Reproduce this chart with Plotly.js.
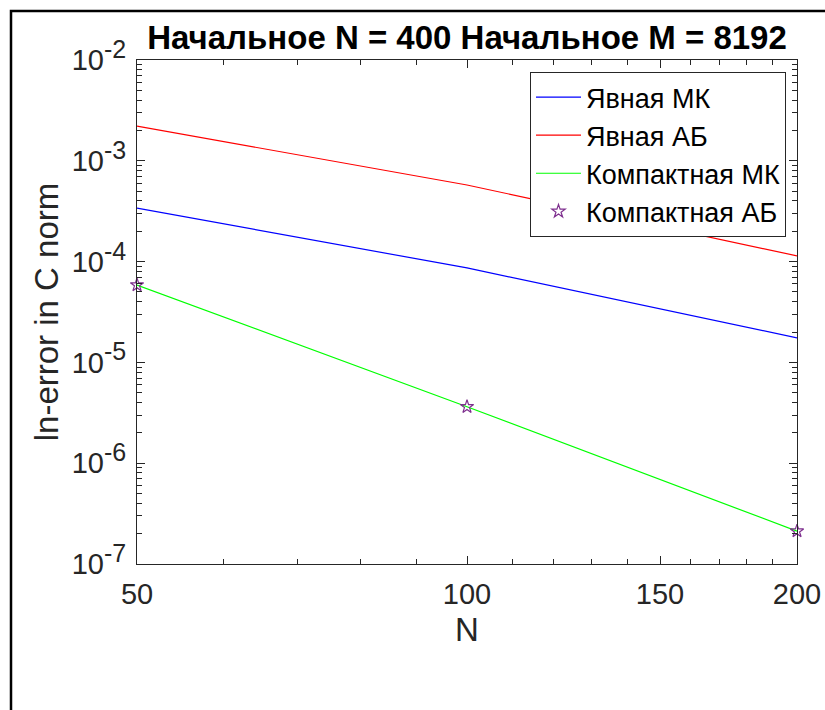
<!DOCTYPE html>
<html>
<head>
<meta charset="utf-8">
<script src="https://cdn.plot.ly/plotly-3.0.1.min.js"></script>
<style>
  html, body { margin: 0; padding: 0; background: #fff; }
  #chart { width: 825px; height: 710px; }
</style>
</head>
<body>
<div id="chart"></div>
<script>
// ---- data ----
const N = [50, 100, 200];
const explicitMK = [3.4e-4, 8.65e-5, 1.75e-5];
const explicitAB = [2.21e-3, 5.75e-4, 1.14e-4];
const compactMK = [5.86e-5, 3.63e-6, 2.12e-7];
const compactAB = [5.86e-5, 3.63e-6, 2.12e-7];

const seriesNames = ['Явная МК', 'Явная АБ', 'Компактная МК', 'Компактная АБ'];
const xTickVals = [50, 100, 150, 200];
const xTickText = ['50', '100', '150', '200'];
const yTickVals = [1e-7, 1e-6, 1e-5, 1e-4, 1e-3, 1e-2];
const yExponents = ['-7', '-6', '-5', '-4', '-3', '-2'];
const xMinorVals = [60, 70, 80, 90, 110, 120, 130, 140, 160, 170, 180, 190];
const yMinorVals = [];
for (let e = -7; e < -2; e++) {
  for (let m = 2; m <= 9; m++) yMinorVals.push(m * Math.pow(10, e));
}
const yTickText = yExponents.map(s => '10<sup><span style="font-size:25px">' + s + '</span></sup>');

const titleText = '<b>Начальное N = 400 Начальное M = 8192</b>';
const xTitle = 'N';
const yTitle = 'ln-error in C norm';

// ---- layout geometry (pixels) ----
const W = 825, H = 710;
const L = 137, R = 797, T = 60, B = 564;
const px2x = p => (p - L) / (R - L);
const py2y = p => (B - p) / (B - T);
const eps = 1e-6;

const axisColor = '#262626';
const fontFam = '"Liberation Sans", Arial, Helvetica, sans-serif';

const traces = [
  { x: N, y: explicitMK, name: seriesNames[0], type: 'scatter', mode: 'lines',
    line: { color: '#0000FF', width: 1.2 } },
  { x: N, y: explicitAB, name: seriesNames[1], type: 'scatter', mode: 'lines',
    line: { color: '#FF0000', width: 1.2 } },
  { x: N, y: compactMK, name: seriesNames[2], type: 'scatter', mode: 'lines',
    line: { color: '#00FF00', width: 1.2 } },
  { x: N, y: compactAB, name: seriesNames[3], type: 'scatter', mode: 'markers', cliponaxis: false,
    marker: { symbol: 'star-open', color: '#7E2F8E', size: 10, line: { width: 1.2, color: '#7E2F8E' } } }
];

const layout = {
  width: W, height: H,
  margin: { l: L, r: W - R, t: T, b: H - B },
  paper_bgcolor: '#ffffff',
  plot_bgcolor: '#ffffff',
  font: { family: fontFam, color: axisColor, size: 29 },
  title: { text: titleText, font: { family: fontFam, size: 33, color: '#000000' },
           x: 0.5, xref: 'paper', xanchor: 'center', y: 1 - 37 / H, yanchor: 'middle' },
  showlegend: true,
  legend: {
    x: px2x(786), xanchor: 'right', y: py2y(72), yanchor: 'top',
    bgcolor: '#ffffff', bordercolor: axisColor, borderwidth: 1,
    font: { family: fontFam, size: 27, color: '#000000' },
    itemwidth: 45
  },
  xaxis: {
    type: 'log', range: [Math.log10(50) - eps, Math.log10(200) + eps],
    tickmode: 'array', tickvals: xTickVals, ticktext: xTickText,
    ticks: 'inside', ticklen: 8, tickwidth: 1, tickcolor: axisColor,
    minor: { tickmode: 'array', tickvals: xMinorVals, ticks: 'inside', ticklen: 5, tickwidth: 1, tickcolor: axisColor, showgrid: false },
    showline: true, linecolor: axisColor, linewidth: 1, mirror: 'ticks',
    showgrid: false, zeroline: false,
    ticklabelstandoff: 4,
    tickfont: { size: 29, color: axisColor },
    title: { text: xTitle, font: { size: 33, color: axisColor }, standoff: 9 }
  },
  yaxis: {
    type: 'log', range: [-7 - eps, -2 + eps],
    tickmode: 'array', tickvals: yTickVals, ticktext: yTickText,
    ticks: 'inside', ticklen: 8, tickwidth: 1, tickcolor: axisColor,
    minor: { tickmode: 'array', tickvals: yMinorVals, ticks: 'inside', ticklen: 5, tickwidth: 1, tickcolor: axisColor, showgrid: false },
    showline: true, linecolor: axisColor, linewidth: 1, mirror: 'ticks',
    showgrid: false, zeroline: false,
    ticklabelstandoff: 4,
    tickfont: { size: 29, color: axisColor },
    title: { text: yTitle, font: { size: 33, color: axisColor }, standoff: 3 }
  },
  shapes: [
    { type: 'path', xref: 'paper', yref: 'paper',
      path: 'M ' + px2x(11) + ',' + py2y(H + 5) + ' L ' + px2x(11) + ',' + py2y(11) + ' L ' + px2x(W + 5) + ',' + py2y(11),
      line: { color: '#000000', width: 2.5 } }
  ]
};

Plotly.newPlot('chart', traces, layout, { staticPlot: true, displayModeBar: false });
</script>
</body>
</html>
